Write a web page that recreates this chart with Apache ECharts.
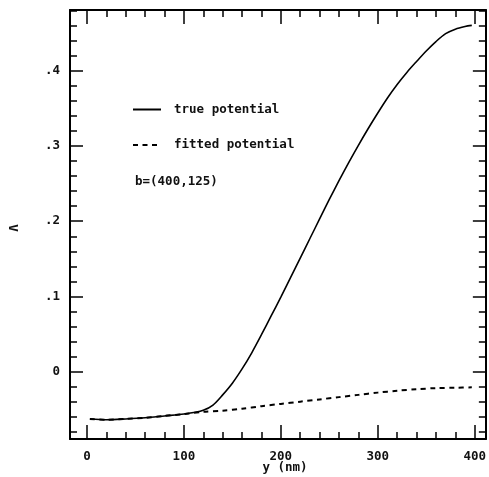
<!DOCTYPE html>
<html>
<head>
<meta charset="utf-8">
<script src="https://cdn.jsdelivr.net/npm/echarts@6/dist/echarts.min.js"></script>
<style>html,body{margin:0;padding:0;background:#fff;}#c{width:489px;height:477px;}</style>
</head>
<body>
<div id="c"></div>
<script>
// ---- data ----
var xTrue = [3, 20, 40, 60, 80, 100, 110, 120, 130, 140, 150, 160, 170, 180, 190, 200, 210, 220, 230, 240, 250, 260, 270, 280, 290, 300, 310, 320, 330, 340, 350, 360, 370, 380, 390, 397];
var vTrue = [-0.0631, -0.064, -0.063, -0.0615, -0.059, -0.0565, -0.0545, -0.0515, -0.0445, -0.031, -0.0155, 0.0035, 0.025, 0.049, 0.074, 0.099, 0.125, 0.151, 0.177, 0.203, 0.229, 0.254, 0.278, 0.301, 0.323, 0.344, 0.364, 0.382, 0.398, 0.4125, 0.4265, 0.439, 0.4495, 0.4555, 0.459, 0.4605];
var xFit = [3, 20, 40, 60, 80, 100, 120, 140, 160, 180, 200, 220, 240, 260, 280, 300, 320, 340, 360, 380, 397];
var vFit = [-0.0631, -0.064, -0.063, -0.0615, -0.059, -0.0565, -0.0535, -0.052, -0.0495, -0.046, -0.043, -0.040, -0.037, -0.034, -0.031, -0.028, -0.0255, -0.0235, -0.022, -0.0215, -0.021];
var seriesNames = ['true potential', 'fitted potential'];
var xMajor = [0, 100, 200, 300, 400];
var xMinor = [20, 40, 60, 80, 120, 140, 160, 180, 220, 240, 260, 280, 320, 340, 360, 380];
var yMajor = [0, 0.1, 0.2, 0.3, 0.4];
var yMinor = [-0.08, -0.06, -0.04, -0.02, 0.02, 0.04, 0.06, 0.08, 0.12, 0.14, 0.16, 0.18, 0.22, 0.24, 0.26, 0.28, 0.32, 0.34, 0.36, 0.38, 0.42, 0.44, 0.46, 0.48];
var xLabel = 'y (nm)';
var yLabel = 'V';
var note = 'b=(400,125)';

var XMIN = -17.5, XMAX = 411.5, YMIN = -0.0897, YMAX = 0.481;
var FONT = 'DejaVu Sans Mono';
var lab = {fontFamily: FONT, fontSize: 12.5, fontWeight: 'bold', color: '#111'};

function xAxisDef(pos, values, len, showLine, showLabel) {
  return {
    type: 'value', position: pos, min: XMIN, max: XMAX, gridIndex: 0,
    axisLine: {show: showLine, onZero: false, lineStyle: {color: '#000', width: 2}},
    axisTick: {show: true, inside: true, length: len, customValues: values, lineStyle: {color: '#000', width: 1.5}},
    axisLabel: showLabel ? Object.assign({show: true, margin: 11, customValues: values, formatter: function (v) { return String(v); }}, lab) : {show: false},
    splitLine: {show: false}
  };
}
function yAxisDef(pos, values, len, showLine, showLabel) {
  return {
    type: 'value', position: pos, min: YMIN, max: YMAX, gridIndex: 0,
    axisLine: {show: showLine, onZero: false, lineStyle: {color: '#000', width: 2}},
    axisTick: {show: true, inside: true, length: len, customValues: values, lineStyle: {color: '#000', width: 1.5}},
    axisLabel: showLabel ? Object.assign({show: true, margin: 10, customValues: values, formatter: function (v) { return v === 0 ? '0' : String(v).replace(/^0/, ''); }}, lab) : {show: false},
    splitLine: {show: false}
  };
}

var chart = echarts.init(document.getElementById('c'), null, {renderer: 'canvas'});
chart.setOption({
  animation: false,
  backgroundColor: '#fff',
  grid: {left: 70, right: 0, top: 10, bottom: 38},
  xAxis: [
    xAxisDef('bottom', xMajor, 14, true, true),
    xAxisDef('bottom', xMinor, 7, false, false),
    xAxisDef('top', xMajor, 14, true, false),
    xAxisDef('top', xMinor, 7, false, false)
  ],
  yAxis: [
    yAxisDef('left', yMajor, 13, true, true),
    yAxisDef('left', yMinor, 7, false, false),
    yAxisDef('right', yMajor, 13, true, false),
    yAxisDef('right', yMinor, 7, false, false)
  ],
  legend: {
    orient: 'vertical', left: 127, top: 98, itemWidth: 28, itemHeight: 14, itemGap: 22.5,
    itemStyle: {opacity: 0},
    textStyle: Object.assign({padding: [0, 0, 0, 8]}, lab),
    data: seriesNames
  },
  series: [
    {name: seriesNames[0], type: 'line', xAxisIndex: 0, yAxisIndex: 0, symbol: 'none', smooth: 0.3,
     lineStyle: {color: '#000', width: 1.6}, itemStyle: {color: '#000'},
     data: xTrue.map(function (x, i) { return [x, vTrue[i]]; })},
    {name: seriesNames[1], type: 'line', xAxisIndex: 0, yAxisIndex: 0, symbol: 'none', smooth: 0.3,
     lineStyle: {color: '#000', width: 2, type: [5, 4.5]}, itemStyle: {color: '#000'},
     data: xFit.map(function (x, i) { return [x, vFit[i]]; })}
  ],
  graphic: [
    {type: 'text', left: 135, top: 175, style: {text: note, fill: '#111', font: 'bold 12.5px ' + FONT}},
    {type: 'text', x: 285, y: 468, style: {text: xLabel, fill: '#111', font: 'bold 12.5px ' + FONT, textAlign: 'center', textVerticalAlign: 'middle'}},
    {type: 'text', x: 12, y: 228, rotation: -Math.PI / 2, style: {text: yLabel, fill: '#111', font: 'bold 12.5px ' + FONT, textAlign: 'center', textVerticalAlign: 'middle'}}
  ]
});
</script>
</body>
</html>
